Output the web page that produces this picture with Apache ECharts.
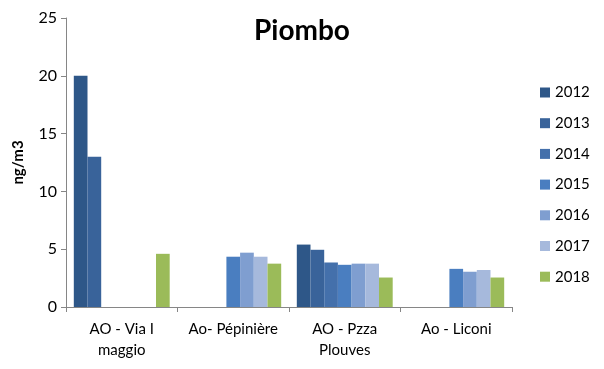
<!DOCTYPE html>
<html><head><meta charset="utf-8">
<script src="https://cdn.jsdelivr.net/npm/echarts@6/dist/echarts.min.js"></script>
<style>html,body{margin:0;padding:0;background:#fff}#c{width:604px;height:369px}</style>
</head><body><div id="c"></div>
<script>
const categories = ['AO - Via I\nmaggio', 'Ao- Pépinière', 'AO - Pzza\nPlouves', 'Ao - Liconi'];
const years = ['2012','2013','2014','2015','2016','2017','2018'];
const v2012 = [20, null, 5.4, null];
const v2013 = [13, null, 4.95, null];
const v2014 = [null, null, 3.85, null];
const v2015 = [null, 4.35, 3.65, 3.3];
const v2016 = [null, 4.7, 3.75, 3.05];
const v2017 = [null, 4.35, 3.75, 3.2];
const v2018 = [4.6, 3.75, 2.55, 2.55];
const yTicks = [0, 5, 10, 15, 20, 25];
const colors = ['#2E5788','#39639A','#4470AB','#4A7EC0','#7F9ED0','#A6B9DC','#9BBB59'];
const values = [v2012, v2013, v2014, v2015, v2016, v2017, v2018];
const font = 'Lato, "Open Sans", sans-serif';
const chart = echarts.init(document.getElementById('c'));
chart.setOption({
  animation: false,
  color: colors,
  title: {text: 'Piombo', left: 297, top: 12, textAlign: 'center',
    textStyle: {fontFamily: font, fontSize: 28, fontWeight: 'bold', color: '#000'}},
  legend: {orient: 'vertical', left: 540, top: 85, padding: 0, itemWidth: 10, itemHeight: 10, itemGap: 15.7,
    icon: 'rect', data: years,
    textStyle: {fontFamily: font, fontSize: 15, color: '#000', padding: [0,0,0,0]}},
  grid: {left: 66, right: 92, top: 18, bottom: 62},
  xAxis: {type: 'category', data: categories,
    axisLine: {lineStyle: {color: '#868686'}},
    axisTick: {show: true, length: 5, lineStyle: {color: '#868686'}},
    axisLabel: {fontFamily: font, fontSize: 15, color: '#000', margin: 12, lineHeight: 21, interval: 0}},
  yAxis: {type: 'value', min: yTicks[0], max: yTicks[yTicks.length-1], interval: 5,
    name: 'ng/m3', nameLocation: 'middle', nameGap: 40, nameRotate: 90,
    nameTextStyle: {fontFamily: font, fontSize: 15, fontWeight: 'bold', color: '#000'},
    axisLine: {show: true, lineStyle: {color: '#868686'}},
    axisTick: {show: true, length: 5, lineStyle: {color: '#868686'}},
    splitLine: {show: false},
    axisLabel: {fontFamily: font, fontSize: 16, color: '#000', margin: 9}},
  series: years.map((y, i) => ({
    name: y, type: 'bar', data: values[i], barGap: '0%', barCategoryGap: '14%'
  }))
});
</script></body></html>
